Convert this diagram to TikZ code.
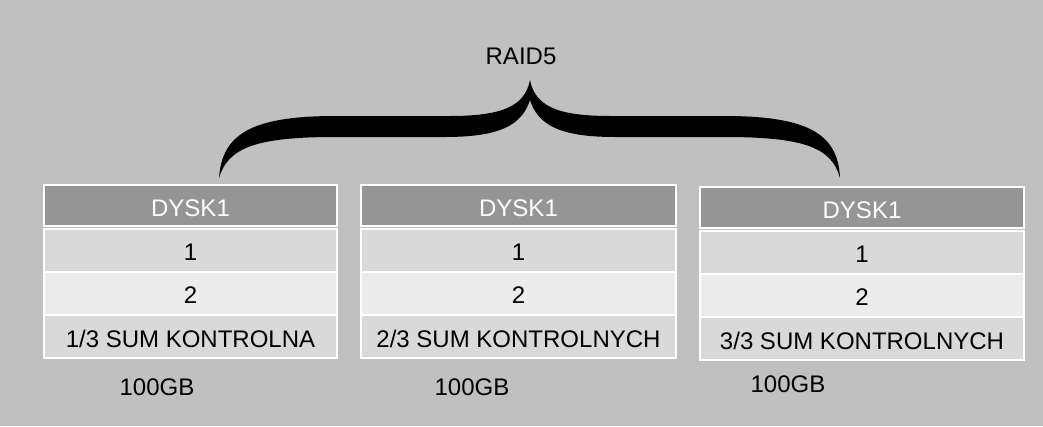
\documentclass[tikz,border=0pt]{standalone}
\usepackage{fontspec}
\setmainfont{Liberation Sans}
\definecolor{bg}{HTML}{C0C0C0}
\definecolor{hdr}{HTML}{959595}
\definecolor{rowa}{HTML}{D9D9D9}
\definecolor{rowb}{HTML}{ECECEC}
\tikzset{
  cellbox/.style={draw=white, line width=1.6pt, anchor=north west, inner sep=0pt, outer sep=0pt},
  celltext/.style={anchor=base, inner sep=0pt, font=\fontsize{24}{28}\selectfont},
  lbl/.style={anchor=base, inner sep=0pt, font=\fontsize{24}{28}\selectfont},
}
\newcommand\dysktable[5]{%
  % #1 name, #2 x, #3 top, #4 width, #5 last row text
  \node[cellbox, fill=hdr, minimum width=#4pt, minimum height=41pt] (#1h) at (#2,#3) {};
  \node[cellbox, fill=rowa, minimum width=#4pt, minimum height=43pt] (#1a) at (#2,#3+44) {};
  \node[cellbox, fill=rowb, minimum width=#4pt, minimum height=43pt] (#1b) at (#2,#3+87) {};
  \node[cellbox, fill=rowa, minimum width=#4pt, minimum height=43pt] (#1c) at (#2,#3+130) {};
  \node[celltext, text=white] (#1ht) at (#2+#4/2,#3+31) {DYSK1};
  \node[celltext] (#1at) at (#2+#4/2,#3+75) {1};
  \node[celltext] (#1bt) at (#2+#4/2,#3+118) {2};
  \node[celltext] (#1ct) at (#2+#4/2,#3+162) {#5};
}
\begin{document}
\begin{tikzpicture}[x=1pt,y=-1pt]
\fill[bg] (0,0) rectangle (1043,426);
\useasboundingbox (0,0) rectangle (1043,426);

\dysktable{t1}{44}{185}{293}{1/3 SUM KONTROLNA}
\dysktable{t2}{361}{185}{315}{2/3 SUM KONTROLNYCH}
\dysktable{t3}{700}{187}{324}{3/3 SUM KONTROLNYCH}

\node[lbl] (raid) at (521,64) {RAID5};
\node[lbl] (g1) at (157,395) {100GB};
\node[lbl] (g2) at (472,395) {100GB};
\node[lbl] (g3) at (788,392) {100GB};

% brace
\fill[black] (219,178)
  .. controls (222,135) and (250,116) .. (335,116)
  -- (450,116)
  .. controls (505,116) and (525,105) .. (530,80)
  .. controls (535,105) and (555,116) .. (610,116)
  -- (725,116)
  .. controls (810,116) and (838,135) .. (840,178)
  .. controls (832,148) and (805,137) .. (725,137)
  -- (615,137)
  .. controls (560,137) and (538,125) .. (530,100)
  .. controls (522,125) and (500,137) .. (445,137)
  -- (335,137)
  .. controls (255,137) and (228,148) .. (219,178) -- cycle;
\end{tikzpicture}
\end{document}
